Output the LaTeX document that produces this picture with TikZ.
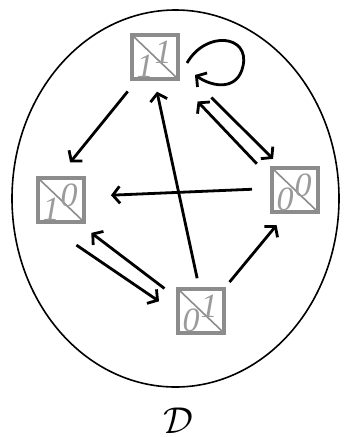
\documentclass[tikz,border=0pt]{standalone}
\usepackage{fontspec}
\usetikzlibrary{arrows.meta}
\newfontfamily\digitfont{Liberation Serif}
\definecolor{boxgray}{RGB}{140,140,140}
\definecolor{digitgray}{RGB}{155,155,155}

\begin{document}
\begin{tikzpicture}[x=1pt,y=-1pt,
    cell/.style={draw=boxgray, line width=3.5pt, minimum width=46pt, minimum height=44pt,
      inner sep=0pt, outer sep=0pt,
      path picture={\draw[boxgray, line width=1.6pt]
        (path picture bounding box.north west) -- (path picture bounding box.south east);}},
    digit/.style={text=digitgray, font=\digitfont\fontsize{34}{34}\selectfont\itshape, inner sep=0pt},
    arr/.style={line width=2.8pt, -{Straight Barb[length=7pt,width=17pt]}}]
  \useasboundingbox (0,0) rectangle (345,437);

  % the domain
  \draw[line width=1.6pt] (175.5,198.5) ellipse [x radius=163.5, y radius=188.5];

  % the four states
  \node[cell] (t) at (155,57) {};
  \node[cell] (l) at (61,200) {};
  \node[cell] (r) at (295,190) {};
  \node[cell] (b) at (201,311) {};

  \node[digit] (t-lo) at ([xshift=-10pt,yshift=-9pt]t.center) {1};
  \node[digit] (t-hi) at ([xshift=8pt,yshift=5pt]t.center) {1};
  \node[digit] (l-lo) at ([xshift=-10pt,yshift=-9pt]l.center) {1};
  \node[digit] (l-hi) at ([xshift=8pt,yshift=5pt]l.center) {0};
  \node[digit] (r-lo) at ([xshift=-10pt,yshift=-9pt]r.center) {0};
  \node[digit] (r-hi) at ([xshift=8pt,yshift=5pt]r.center) {0};
  \node[digit] (b-lo) at ([xshift=-10pt,yshift=-9pt]b.center) {0};
  \node[digit] (b-hi) at ([xshift=8pt,yshift=5pt]b.center) {1};

  % transitions
  \draw[arr, shorten <=16pt, shorten >=20pt] (t.232) -- (l.99);
  \draw[arr, shorten <=20pt, shorten >=27pt] (r.176) -- (l.9);
  \draw[arr, shorten <=11pt, shorten >=13pt] (b.94) -- (t.268);
  \draw[arr, shorten <=9pt, shorten >=17pt] (b.44) -- (r.251);
  \draw[arr, shorten <=47pt, shorten >=13pt] (t.342) -- (r.120);
  \draw[arr, shorten <=22pt, shorten >=31pt] (r.156) -- (t.314);
  \draw[arr, shorten <=41pt, shorten >=23pt] (l.230) -- (b.188);
  \draw[arr, shorten <=17pt, shorten >=18pt] (b.152) -- (l.306);
  \draw[arr] ([shift={(9pt,-6pt)}]t.east) .. controls (206,30) and (250,35) .. (243,66)
    .. controls (238,90) and (214,88) .. ([shift={(17pt,-18pt)}]t.east);

  \node[font=\Huge, scale=1.5] (dom) at (178,421) {$\mathcal{D}$};
\end{tikzpicture}
\end{document}
